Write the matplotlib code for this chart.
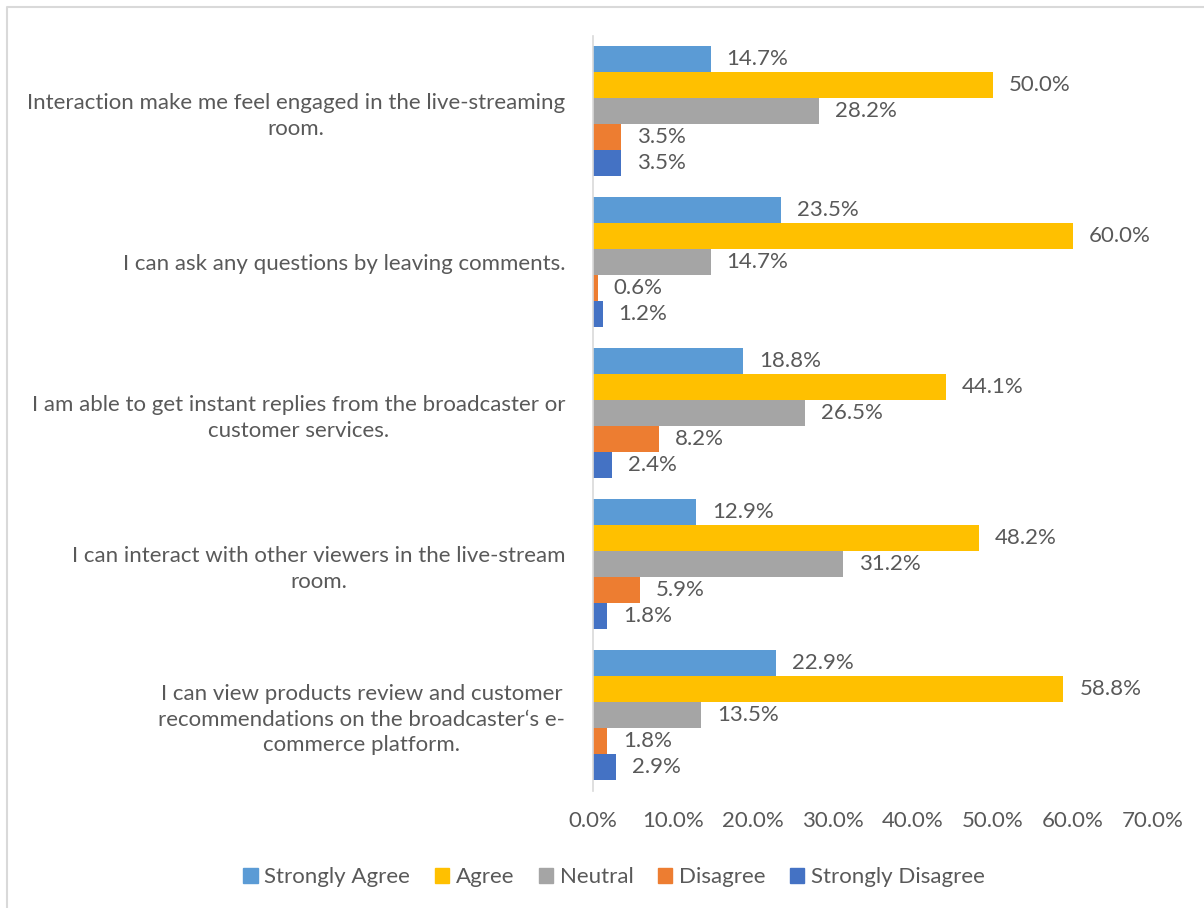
import numpy as np
import matplotlib.pyplot as plt
from matplotlib.lines import Line2D
from matplotlib.patches import Patch

plt.rcParams['font.family'] = ['Lato', 'DejaVu Sans']

# 调查题目（从上到下）
questions = [
    'Interaction make me feel engaged in the live-streaming\nroom.',
    'I can ask any questions by leaving comments.',
    'I am able to get instant replies from the broadcaster or\ncustomer services.',
    'I can interact with other viewers in the live-stream\nroom.',
    'I can view products review and customer\nrecommendations on the broadcaster‘s e-\ncommerce platform.',
]

levels = ['Strongly Agree', 'Agree', 'Neutral', 'Disagree', 'Strongly Disagree']
colors = ['#5B9BD5', '#FFC000', '#A5A5A5', '#ED7D31', '#4472C4']

strongly_agree = [14.7, 23.5, 18.8, 12.9, 22.9]
agree = [50.0, 60.0, 44.1, 48.2, 58.8]
neutral = [28.2, 14.7, 26.5, 31.2, 13.5]
disagree = [3.5, 0.6, 8.2, 5.9, 1.8]
strongly_disagree = [3.5, 1.2, 2.4, 1.8, 2.9]

series = [strongly_agree, agree, neutral, disagree, strongly_disagree]

text_color = '#595959'
fs = 16

fig = plt.figure(figsize=(12.04, 9.08), dpi=100)
ax = fig.add_axes([593 / 1204, 1 - 790.5 / 908, 560 / 1204, 755 / 908])

y = np.arange(len(questions))
h = 0.172
for i, (vals, name, c) in enumerate(zip(series, levels, colors)):
    pos = y + (i - 2) * h
    bars = ax.barh(pos, vals, height=h, color=c, label=name)
    for b, v in zip(bars, vals):
        ax.text(v + 2.0, b.get_y() + h / 2, f'{v:.1f}%', va='center', ha='left',
                fontsize=fs, color=text_color)

ax.set_xlim(0, 70)
ax.set_ylim(len(questions) - 0.5, -0.5)
ax.set_xticks(np.arange(0, 71, 10))
ax.set_xticklabels([f'{t:.1f}%' for t in np.arange(0, 71, 10)])
ax.set_yticks(y)
ax.set_yticklabels(questions, multialignment='center', linespacing=1.35)

for s in ['top', 'right', 'bottom']:
    ax.spines[s].set_visible(False)
ax.spines['left'].set_color('#D9D9D9')
ax.spines['left'].set_linewidth(1.2)
ax.tick_params(axis='both', length=0, labelsize=fs, labelcolor=text_color)
ax.tick_params(axis='x', pad=15)
ax.tick_params(axis='y', pad=20)

handles = [Patch(color=c) for c in colors]
fig.legend(handles, levels, loc='center', bbox_to_anchor=(614 / 1204, 1 - 877 / 908),
           ncol=5, frameon=False, fontsize=fs, labelcolor=text_color,
           handlelength=0.65, handleheight=0.65, handletextpad=0.3, columnspacing=1.1)

# 外框
fig.add_artist(Line2D([7 / 1204, 7 / 1204, 1], [0, 1 - 7 / 908, 1 - 7 / 908],
                      color='#D9D9D9', linewidth=1.5, transform=fig.transFigure))

fig.savefig('out.png', dpi=100)
